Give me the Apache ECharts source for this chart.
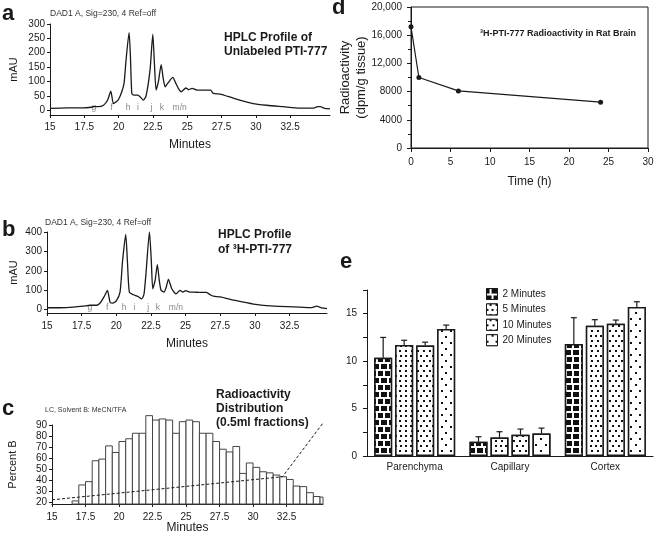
<!DOCTYPE html>
<html><head><meta charset="utf-8">
<script src="https://cdn.jsdelivr.net/npm/echarts@6/dist/echarts.min.js"></script>
<style>html,body{margin:0;padding:0;background:#fff}#c{width:657px;height:540px}</style>
</head><body><div id="c"></div>
<script>
// ---------- Panel a: HPLC profile of unlabeled PTI-777 ----------
const aMinutes = [15.0, 16.2, 17.4, 18.0, 18.2, 18.5, 18.9, 19.2, 19.43, 19.62, 19.8, 20.0, 20.23, 20.4, 20.54, 20.76, 20.85, 20.96, 21.1, 21.4, 21.6, 21.8, 22.0, 22.29, 22.49, 22.6, 22.73, 22.9, 23.1, 23.25, 23.39, 23.6, 23.95, 24.15, 24.36, 24.55, 24.9, 25.1, 25.35, 25.7, 26.2, 26.7, 26.9, 27.4, 28.4, 29.8, 30.8, 32.0, 33.2, 34.2, 34.5, 34.7, 35.0, 35.4];
const aMAU = [6, 8, 8, 10, 12, 12, 17, 35, 66, 23, 28, 38, 64, 95, 174, 270, 200, 58, 52, 52, 45, 35, 50, 140, 264, 170, 70, 100, 158, 110, 81, 95, 114, 95, 75, 64, 77, 71, 76, 70, 70, 70, 58, 56, 41, 23, 17, 12, 7, 7, 12, 12, 6, 4];
const peakLetters = ['g', 'f', 'h', 'i', 'j', 'k', 'm/n'];
const aLetterMinutes = [18.2, 19.5, 20.7, 21.4, 22.4, 23.15, 24.45];
const aTicks = [0, 50, 100, 150, 200, 250, 300];

// ---------- Panel b: HPLC profile of 3H-PTI-777 ----------
const bMinutes = [15.0, 16.4, 17.6, 18.1, 18.6, 18.9, 19.15, 19.36, 19.55, 19.75, 20.0, 20.27, 20.45, 20.68, 20.8, 20.94, 21.23, 21.55, 21.84, 22.0, 22.15, 22.39, 22.52, 22.63, 22.8, 22.96, 23.1, 23.23, 23.45, 23.6, 23.76, 24.0, 24.31, 24.6, 24.8, 25.0, 25.3, 25.6, 26.0, 26.5, 26.8, 27.0, 27.5, 28.5, 29.9, 31.4, 32.8, 34.1, 34.45, 34.8, 35.2];
const bMAU = [9, 10, 17, 22, 22, 40, 70, 99, 38, 33, 45, 90, 250, 388, 250, 90, 76, 68, 55, 80, 194, 401, 260, 107, 150, 232, 150, 99, 90, 115, 156, 107, 81, 99, 90, 97, 90, 90, 88, 88, 75, 69, 65, 48, 28, 17, 14, 10, 17, 9, 5];
const bLetterMinutes = [18.1, 19.35, 20.56, 21.3, 22.3, 23.0, 24.3];
const bTicks = [0, 100, 200, 300, 400];

const minuteTicks = [15, 17.5, 20, 22.5, 25, 27.5, 30, 32.5];

// ---------- Panel c: radioactivity distribution (0.5 ml fractions) ----------
const fractionStarts = [16.5, 17, 17.5, 18, 18.5, 19, 19.5, 20, 20.5, 21, 21.5, 22, 22.5, 23, 23.5, 24, 24.5, 25, 25.5, 26, 26.5, 27, 27.5, 28, 28.5, 29, 29.5, 30, 30.5, 31, 31.5, 32, 32.5, 33, 33.5, 34, 34.5, 35];
const fractionHeights = [21, 35.5, 38.5, 57.5, 59, 71, 65, 75, 77.5, 82.5, 82.5, 98.5, 94.5, 95.5, 94.5, 82.5, 93, 94.5, 93, 82.5, 82.5, 75, 68, 65.5, 70.5, 46, 55.5, 51.5, 47.5, 46.5, 44.5, 43, 40.5, 34.5, 34, 28.5, 25, 24.5];
const gradMinutes = [15, 32.2, 35.2];
const gradPercentB = [22, 43, 91.5];
const cTicks = [20, 30, 40, 50, 60, 70, 80, 90];

// ---------- Panel d: radioactivity in rat brain ----------
const dHours = [0, 1, 6, 24];
const dRadio = [17200, 10000, 8100, 6500];

// ---------- Panel e: regional distribution ----------
const regions = ['Parenchyma', 'Capillary', 'Cortex'];
const timeNames = ['2 Minutes', '5 Minutes', '10 Minutes', '20 Minutes'];
const mean2 = [10.35, 1.5, 11.8];
const mean5 = [11.7, 1.96, 13.72];
const mean10 = [11.64, 2.24, 13.95];
const mean20 = [13.39, 2.38, 15.72];
const sem2 = [2.15, 0.53, 2.78];
const sem5 = [0.5, 0.6, 0.65];
const sem10 = [0.36, 0.6, 0.38];
const sem20 = [0.41, 0.56, 0.54];
const eLabelTicks = [0, 5, 10, 15];
const eTicks = [0, 2.5, 5, 7.5, 10, 12.5, 15, 17.5];

// ---------- styling ----------
const FONT = '"Liberation Sans", Arial, sans-serif';
const INK = '#1a1a1a';
const BAR_W = 18, BAR_GAP = 3;

function axisBase(extra) {
  const base = {
    splitLine: { show: false },
    nameMoveOverlap: false,
    axisLine: { show: true, onZero: false, lineStyle: { color: INK, width: 1 } },
    axisTick: { show: true, length: 3, lineStyle: { color: INK, width: 1 } },
    axisLabel: { color: INK, fontFamily: FONT, fontSize: 10 },
    nameTextStyle: { color: INK, fontFamily: FONT, fontSize: 12 }
  };
  for (const k in extra) {
    if (base[k] && typeof base[k] === 'object' && !Array.isArray(base[k]) && typeof extra[k] === 'object' && !Array.isArray(extra[k])) {
      base[k] = Object.assign({}, base[k], extra[k]);
    } else base[k] = extra[k];
  }
  return base;
}

const decals = [
  { symbol: 'rect', symbolSize: 1, color: '#111', backgroundColor: '#fff', dashArrayX: [[5, 2], [2.5, 2, 2.5, 0]], dashArrayY: [4.5, 2] },
  { symbol: 'rect', symbolSize: 1, color: '#111', backgroundColor: '#fff', dashArrayX: [[2, 3], [0, 2.5, 2, 0.5]], dashArrayY: [2, 2.5] },
  { symbol: 'rect', symbolSize: 1, color: '#111', backgroundColor: '#fff', dashArrayX: [[2, 4], [0, 3, 2, 1]], dashArrayY: [2, 3] },
  { symbol: 'rect', symbolSize: 1, color: '#111', backgroundColor: '#fff', dashArrayX: [[2, 7], [0, 4.5, 2, 2.5]], dashArrayY: [2, 4] }
];
const means = [mean2, mean5, mean10, mean20];
const sems = [sem2, sem5, sem10, sem20];

const errData = [];
means.forEach((m, s) => m.forEach((v, ci) => errData.push([ci, v + sems[s][ci], s, v])));

function txt(text, x, y, size, bold, color) {
  return {
    type: 'text', x: x, y: y, z: 100,
    style: { text: text, fill: color || INK, font: (bold ? 'bold ' : '') + size + 'px ' + FONT,
      align: 'left', textAlign: 'left', verticalAlign: 'middle', textVerticalAlign: 'middle' }
  };
}

const option = {
  animation: false,
  backgroundColor: '#fff',
  textStyle: { fontFamily: FONT },
  grid: [
    { left: 50, top: 24, width: 280, height: 91 },
    { left: 47, top: 232, width: 280, height: 81 },
    { left: 52, top: 425, width: 271, height: 79 },
    { left: 411, top: 7, width: 237, height: 141, show: true, borderColor: INK, borderWidth: 1, backgroundColor: 'transparent' },
    { left: 367, top: 290, width: 286, height: 166 }
  ],
  xAxis: [
    axisBase({ type: 'value', gridIndex: 0, min: 15, max: 35.4, name: 'Minutes', nameLocation: 'middle', nameGap: 24,
      axisTick: { customValues: minuteTicks }, axisLabel: { customValues: minuteTicks, margin: 7 } }),
    axisBase({ type: 'value', gridIndex: 1, min: 15, max: 35.2, name: 'Minutes', nameLocation: 'middle', nameGap: 25,
      axisTick: { customValues: minuteTicks }, axisLabel: { customValues: minuteTicks, margin: 8 } }),
    axisBase({ type: 'value', gridIndex: 2, min: 15, max: 35.22, name: 'Minutes', nameLocation: 'middle', nameGap: 18,
      axisTick: { customValues: minuteTicks }, axisLabel: { customValues: minuteTicks, margin: 8 } }),
    axisBase({ type: 'value', gridIndex: 3, min: 0, max: 30, interval: 5, name: 'Time (h)', nameLocation: 'middle', nameGap: 28,
      axisTick: { length: 4 }, axisLabel: { margin: 9 }, nameTextStyle: { fontSize: 12 } }),
    axisBase({ type: 'category', gridIndex: 4, data: regions, axisTick: { show: false }, axisLabel: { margin: 6 } })
  ],
  yAxis: [
    axisBase({ type: 'value', gridIndex: 0, min: -17, max: 300, name: 'mAU', nameLocation: 'middle', nameGap: 31,
      axisTick: { customValues: aTicks }, axisLabel: { customValues: aTicks, margin: 5 }, nameTextStyle: { fontSize: 11 } }),
    axisBase({ type: 'value', gridIndex: 1, min: -18, max: 400, name: 'mAU', nameLocation: 'middle', nameGap: 28,
      axisTick: { customValues: bTicks }, axisLabel: { customValues: bTicks, margin: 5 }, nameTextStyle: { fontSize: 11 } }),
    axisBase({ type: 'value', gridIndex: 2, min: 18.2, max: 90, name: 'Percent B', nameLocation: 'middle', nameGap: 34,
      axisTick: { customValues: cTicks }, axisLabel: { customValues: cTicks, margin: 5 }, nameTextStyle: { fontSize: 11 } }),
    axisBase({ type: 'value', gridIndex: 3, min: 0, max: 20000, interval: 4000,
      name: 'Radioactivity\n(dpm/g tissue)', nameLocation: 'middle', nameGap: 42,
      minorTick: { show: true, splitNumber: 2, length: 3, lineStyle: { color: INK } },
      axisTick: { length: 4 },
      axisLabel: { margin: 9, formatter: v => v >= 10000 ? v.toLocaleString('en-US') : String(v) },
      nameTextStyle: { fontSize: 13, lineHeight: 16 } }),
    axisBase({ type: 'value', gridIndex: 4, min: 0, max: 17.5,
      axisTick: { customValues: eTicks, length: 4 }, axisLabel: { customValues: eLabelTicks, margin: 10 } })
  ],
  legend: {
    data: timeNames, orient: 'vertical', left: 481, top: 283, itemWidth: 11, itemHeight: 11, itemGap: 3.4,
    icon: 'rect', selectedMode: false,
    itemStyle: { borderColor: INK, borderWidth: 1 },
    textStyle: { color: INK, fontFamily: FONT, fontSize: 10 }
  },
  series: [
    { type: 'line', xAxisIndex: 0, yAxisIndex: 0, data: aMinutes.map((m, i) => [m, aMAU[i]]),
      showSymbol: false, smooth: 0.2, lineStyle: { color: INK, width: 1.3 }, silent: true },
    { type: 'scatter', xAxisIndex: 0, yAxisIndex: 0, symbolSize: 1, itemStyle: { color: 'transparent' },
      data: peakLetters.map((n, i) => ({ name: n, value: [aLetterMinutes[i], 7] })),
      label: { show: true, position: 'inside', formatter: p => p.name, color: '#666', fontSize: 8.5, fontFamily: FONT } },
    { type: 'line', xAxisIndex: 1, yAxisIndex: 1, data: bMinutes.map((m, i) => [m, bMAU[i]]),
      showSymbol: false, smooth: 0.2, lineStyle: { color: INK, width: 1.3 }, silent: true },
    { type: 'scatter', xAxisIndex: 1, yAxisIndex: 1, symbolSize: 1, itemStyle: { color: 'transparent' },
      data: peakLetters.map((n, i) => ({ name: n, value: [bLetterMinutes[i], 12] })),
      label: { show: true, position: 'inside', formatter: p => p.name, color: '#666', fontSize: 8.5, fontFamily: FONT } },
    { type: 'custom', xAxisIndex: 2, yAxisIndex: 2, clip: false,
      data: fractionStarts.map((m, i) => [m, fractionHeights[i]]),
      renderItem: (params, api) => {
        const x0 = api.value(0), h = api.value(1);
        const xMax = 35.22;
        const x1 = Math.min(x0 + 0.5, xMax);
        const p0 = api.coord([x0, 18.2]);
        const p1 = api.coord([x1, h]);
        return { type: 'rect', shape: { x: p0[0], y: p1[1], width: p1[0] - p0[0], height: p0[1] - p1[1] },
          style: { fill: '#fff', stroke: '#444', lineWidth: 1 } };
      } },
    { type: 'line', xAxisIndex: 2, yAxisIndex: 2, z: 5, clip: false, data: gradMinutes.map((m, i) => [m, gradPercentB[i]]),
      showSymbol: false, lineStyle: { color: INK, width: 1, type: [3, 2] }, silent: true },
    { type: 'line', xAxisIndex: 3, yAxisIndex: 3, data: dHours.map((h, i) => [h, dRadio[i]]),
      symbol: 'circle', symbolSize: 5, itemStyle: { color: INK }, lineStyle: { color: INK, width: 1.2 } },
    ...timeNames.map((n, s) => ({
      type: 'bar', name: n, xAxisIndex: 4, yAxisIndex: 4, data: means[s], barWidth: BAR_W, barGap: (BAR_GAP / BAR_W * 100) + '%',
      itemStyle: { color: '#fff', borderColor: INK, borderWidth: 1.5, decal: decals[s] }
    })),
    { type: 'custom', xAxisIndex: 4, yAxisIndex: 4, z: 10, data: errData, encode: { x: 0, y: 1 },
      renderItem: (params, api) => {
        const ci = api.value(0), top = api.value(1), s = api.value(2), lo = api.value(3);
        const pTop = api.coord([ci, top]);
        const pLo = api.coord([ci, lo]);
        const x = pTop[0] + (s - 1.5) * (BAR_W + BAR_GAP);
        return { type: 'group', children: [
          { type: 'line', shape: { x1: x, y1: pLo[1], x2: x, y2: pTop[1] }, style: { stroke: INK, lineWidth: 1.2 } },
          { type: 'line', shape: { x1: x - 3, y1: pTop[1], x2: x + 3, y2: pTop[1] }, style: { stroke: INK, lineWidth: 1.2 } }
        ] };
      } }
  ],
  graphic: [
    txt('a', 2, 14, 22, true),
    txt('b', 2, 230, 22, true),
    txt('c', 2, 409, 22, true),
    txt('d', 332, 8, 22, true),
    txt('e', 340, 262, 22, true),
    txt('DAD1 A, Sig=230, 4 Ref=off', 50, 14, 8.5, false, '#333'),
    txt('DAD1 A, Sig=230, 4 Ref=off', 45, 223, 8.5, false, '#333'),
    txt('HPLC Profile of', 224, 38, 12, true),
    txt('Unlabeled PTI-777', 224, 52, 12, true),
    txt('HPLC Profile', 218, 235, 12, true),
    txt('of \u00B3H-PTI-777', 218, 250, 12, true),
    txt('LC, Solvent B: MeCN/TFA', 45, 410, 7, false, '#333'),
    txt('Radioactivity', 216, 395, 12, true),
    txt('Distribution', 216, 409, 12, true),
    txt('(0.5ml fractions)', 216, 423, 12, true),
    txt('\u00B3H-PTI-777 Radioactivity in Rat Brain', 480, 34, 9, true)
  ]
};

const chart = echarts.init(document.getElementById('c'), null, { renderer: 'canvas' });
chart.setOption(option);
</script>
</body></html>
